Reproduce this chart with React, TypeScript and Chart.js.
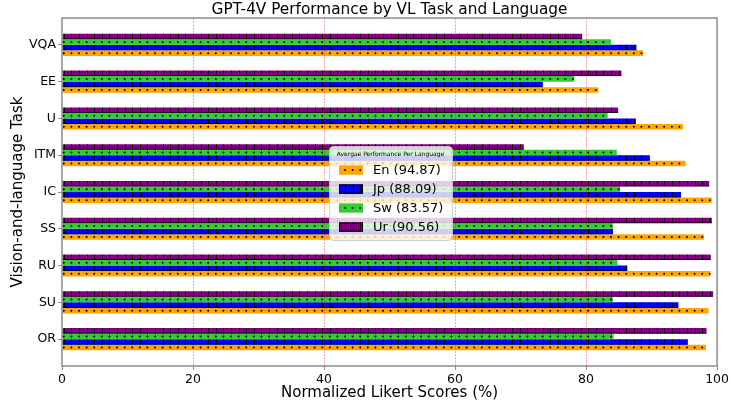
import React, { useEffect, useRef } from 'react';
import { Chart, registerables } from 'chart.js';

Chart.register(...registerables);

// Tasks listed bottom-to-top (matplotlib order, index = y position)
const tasks = ['OR', 'SU', 'RU', 'SS', 'IC', 'ITM', 'U', 'EE', 'VQA'];
const enScores = [98.3, 98.7, 99.0, 98.0, 99.2, 95.2, 94.8, 81.9, 88.7];
const jpScores = [95.5, 94.1, 86.3, 84.1, 94.5, 89.7, 87.6, 73.4, 87.7];
const swScores = [84.2, 84.1, 84.8, 84.1, 85.2, 84.7, 83.3, 78.2, 83.8];
const urScores = [98.4, 99.4, 99.0, 99.2, 98.8, 70.5, 84.9, 85.4, 79.4];
const languages = ['En', 'Jp', 'Sw', 'Ur'];
const averages = [94.87, 88.09, 83.57, 90.56];
const xTicks = [0, 20, 40, 60, 80, 100];

const chartTitle = 'GPT-4V Performance by VL Task and Language';
const xTitle = 'Normalized Likert Scores (%)';
const yTitle = 'Vision-and-language Task';
const legendTitle = 'Avergae Performance Per Language';

const FONT = "'DejaVu Sans', sans-serif";
const colors = ['#FFA500', '#0000FF', '#32CD32', '#800080'];
const hatches = ['dot', 'line', 'dot', 'line'];
const seriesValues = [enScores, jpScores, swScores, urScores];

function drawHatch(ctx: CanvasRenderingContext2D, hatch: string, left: number, top: number, w: number, h: number) {
  ctx.save();
  ctx.beginPath();
  ctx.rect(left, top, w, h);
  ctx.clip();
  const sp = 7.6;
  const phase = 3;
  const k0 = Math.ceil((left - phase) / sp);
  ctx.fillStyle = '#000';
  ctx.strokeStyle = 'rgba(0,0,0,0.85)';
  if (hatch === 'dot') {
    for (let xx = phase + k0 * sp; xx < left + w; xx += sp) {
      ctx.beginPath();
      ctx.arc(xx, top + h / 2, 1.0, 0, Math.PI * 2);
      ctx.fill();
    }
  } else {
    ctx.lineWidth = 1;
    ctx.beginPath();
    for (let xx = phase + k0 * sp; xx < left + w; xx += sp) {
      ctx.moveTo(Math.round(xx) + 0.5, top);
      ctx.lineTo(Math.round(xx) + 0.5, top + h);
    }
    ctx.moveTo(left, top + h - 0.5);
    ctx.lineTo(left + w, top + h - 0.5);
    ctx.stroke();
  }
  ctx.restore();
}

const overlayPlugin = {
  id: 'overlay',
  afterDatasetsDraw(chart: any) {
    const ctx: CanvasRenderingContext2D = chart.ctx;
    chart.data.datasets.forEach((ds: any, di: number) => {
      const meta = chart.getDatasetMeta(di);
      meta.data.forEach((el: any) => {
        const p = el.getProps(['x', 'y', 'base', 'height'], true);
        const left = Math.min(p.x, p.base);
        const right = Math.max(p.x, p.base);
        drawHatch(ctx, ds.hatch, left, p.y - p.height / 2, right - left, p.height);
      });
    });
    // dashed grid lines on top of bars
    const xs = chart.scales.x;
    const area = chart.chartArea;
    ctx.save();
    ctx.strokeStyle = 'rgba(210,0,0,0.45)';
    ctx.lineWidth = 0.8;
    ctx.setLineDash([2, 1.2]);
    xTicks.forEach((t) => {
      if (t === xTicks[0] || t === xTicks[xTicks.length - 1]) return;
      const px = Math.round(xs.getPixelForValue(t)) + 0.5;
      ctx.beginPath();
      ctx.moveTo(px, area.top);
      ctx.lineTo(px, area.bottom);
      ctx.stroke();
    });
    ctx.restore();
  },
  afterDraw(chart: any) {
    const ctx: CanvasRenderingContext2D = chart.ctx;
    const area = chart.chartArea;
    // spines
    ctx.save();
    ctx.strokeStyle = '#8c8c8c';
    ctx.lineWidth = 1.5;
    ctx.strokeRect(area.left, area.top, area.right - area.left, area.bottom - area.top);
    ctx.restore();
    // title
    ctx.save();
    ctx.fillStyle = '#000';
    ctx.font = `15.3px ${FONT}`;
    ctx.textAlign = 'center';
    ctx.textBaseline = 'middle';
    ctx.fillText(chartTitle, (area.left + area.right) / 2, 10);
    ctx.restore();
    // legend
    const lx = 329, ly = 146, lw = 123, lh = 94;
    ctx.save();
    ctx.beginPath();
    (ctx as any).roundRect(lx + 0.5, ly + 0.5, lw, lh, 4);
    ctx.fillStyle = 'rgba(255,255,255,0.8)';
    ctx.fill();
    ctx.strokeStyle = 'rgba(204,204,204,0.9)';
    ctx.lineWidth = 1;
    ctx.stroke();
    ctx.fillStyle = '#000';
    ctx.font = `6px ${FONT}`;
    ctx.textAlign = 'center';
    ctx.textBaseline = 'middle';
    ctx.fillText(legendTitle, lx + lw / 2, ly + 8);
    const rows = [170, 189, 208, 227];
    languages.forEach((lang, i) => {
      const ry = rows[i];
      ctx.fillStyle = colors[i];
      ctx.fillRect(339, ry - 4.6, 24, 9.3);
      drawHatch(ctx, hatches[i], 339, ry - 4.6, 24, 9.3);
      if (hatches[i] === 'line') {
        ctx.strokeStyle = '#000';
        ctx.lineWidth = 1;
        ctx.strokeRect(339.5, ry - 4.1, 23, 8.3);
      }
      ctx.fillStyle = '#000';
      ctx.font = `13px ${FONT}`;
      ctx.textAlign = 'left';
      ctx.textBaseline = 'middle';
      ctx.fillText(`${lang} (${averages[i].toFixed(2)})`, 373, ry + 0.5);
    });
    ctx.restore();
  },
};

export default function App() {
  const canvasRef = useRef<HTMLCanvasElement | null>(null);

  useEffect(() => {
    document.body.style.margin = '0';
    const canvas = canvasRef.current;
    if (!canvas) return;
    // dataset order: top bar first (Ur, Sw, Jp, En)
    const order = [3, 2, 1, 0];
    const datasets = order.map((i) => ({
      label: languages[i],
      data: seriesValues[i].map((v, k) => ({ x: v, y: k })),
      backgroundColor: colors[i],
      borderWidth: 0,
      hatch: hatches[i],
      categoryPercentage: 0.6,
      barPercentage: 1.0,
    }));
    const chart = new Chart(canvas, {
      type: 'bar',
      data: { datasets: datasets as any },
      options: {
        indexAxis: 'y',
        animation: false,
        responsive: false,
        devicePixelRatio: 1,
        layout: { padding: { top: 18, right: 13, left: 0, bottom: 0 } },
        plugins: {
          legend: { display: false },
          title: { display: false },
          tooltip: { enabled: false },
        },
        scales: {
          x: {
            type: 'linear',
            min: 0,
            max: 100,
            offset: false,
            afterBuildTicks: (scale: any) => {
              scale.ticks = xTicks.map((v) => ({ value: v }));
            },
            afterFit: (scale: any) => {
              scale.height = 41;
            },
            border: { display: false },
            grid: { offset: false, drawOnChartArea: false, drawTicks: true, tickLength: 4, color: '#8c8c8c', lineWidth: 1 },
            ticks: { color: '#000', font: { family: FONT, size: 12.5 }, padding: 2, maxRotation: 0 },
            title: {
              display: true,
              text: xTitle,
              color: '#000',
              font: { family: FONT, size: 15 },
              padding: { top: 0, bottom: 5 },
            },
          },
          y: {
            type: 'linear',
            min: -0.73,
            max: 8.73,
            offset: false,
            afterBuildTicks: (scale: any) => {
              scale.ticks = tasks.map((_, i) => ({ value: i }));
            },
            afterFit: (scale: any) => {
              scale.width = 62;
            },
            border: { display: false },
            grid: { offset: false, drawOnChartArea: false, drawTicks: true, tickLength: 4, color: '#8c8c8c', lineWidth: 1 },
            ticks: {
              color: '#000',
              font: { family: FONT, size: 12.5 },
              padding: 2,
              callback: (v: any) => tasks[Math.round(Number(v))] ?? '',
            },
            title: {
              display: true,
              text: yTitle,
              color: '#000',
              font: { family: FONT, size: 15 },
              padding: { top: 9, bottom: 0 },
            },
          },
        },
      } as any,
      plugins: [overlayPlugin],
    });
    return () => chart.destroy();
  }, []);

  return (
    <div style={{ width: 731, height: 407 }}>
      <canvas ref={canvasRef} width={731} height={407} style={{ display: 'block', width: 731, height: 407 }} />
    </div>
  );
}
